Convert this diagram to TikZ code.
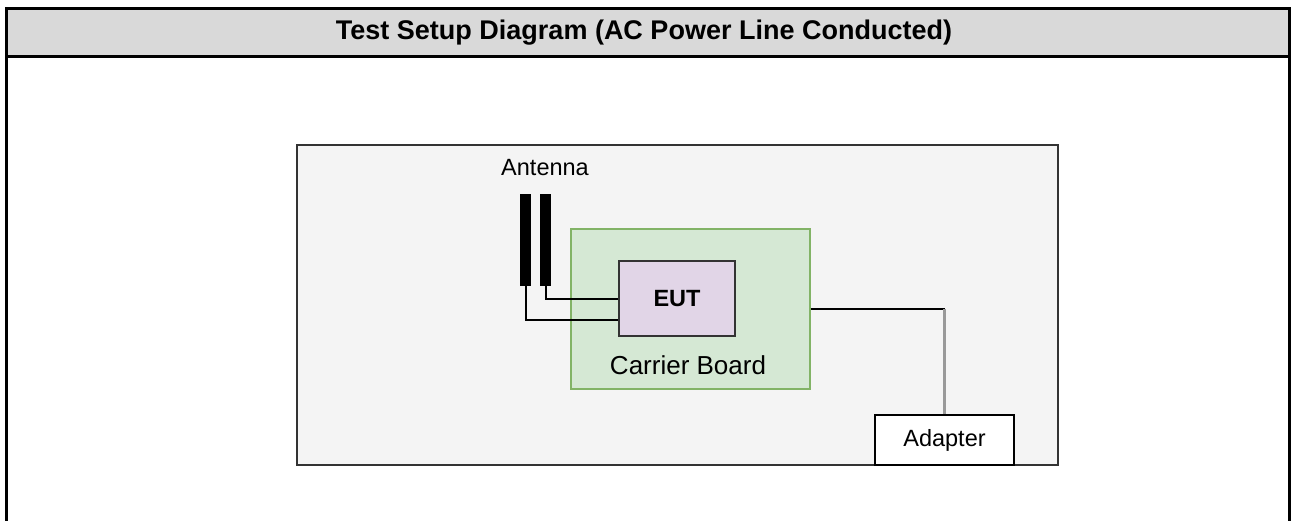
\documentclass[tikz,border=0pt]{standalone}
\usepackage{fontspec}
\setmainfont{Liberation Sans}
\usetikzlibrary{positioning}
\definecolor{headgrey}{HTML}{D9D9D9}
\definecolor{roomgrey}{HTML}{F4F4F4}
\definecolor{edgegrey}{HTML}{333333}
\definecolor{boardgreen}{HTML}{D5E8D4}
\definecolor{boardedge}{HTML}{82B366}
\definecolor{eutviolet}{HTML}{E1D5E7}
\definecolor{cablegrey}{HTML}{999999}

\begin{document}
\begin{tikzpicture}[
        x=1pt, y=-1pt,
        block/.style={rectangle, draw=edgegrey, line width=2pt, inner sep=0pt},
        bar/.style={rectangle, fill=black, minimum width=11pt, minimum height=92pt, inner sep=0pt},
        caption/.style={font=\fontsize{23.5}{28}\selectfont},
        wire/.style={line width=2pt}
    ]
        \clip (0,0) rectangle (1293,520);
        % header band
        \fill[headgrey] (6.5,8) rectangle (1289.5,56.5);
        \node[font=\bfseries\fontsize{27}{32}\selectfont, inner sep=0pt] (title) at (644,32.5)
            {Test Setup Diagram (AC Power Line Conducted)};
        \draw[line width=3pt] (6.5,540) |- (1289.5,8) -- (1289.5,540);
        \draw[line width=2.5pt] (6.5,56.5) -- (1289.5,56.5);

        % test room
        \node[block, fill=roomgrey, minimum width=761pt, minimum height=320pt] (room) at (677.5,305) {};
        \node[block, draw=boardedge, line width=1.5pt, fill=boardgreen,
              minimum width=239pt, minimum height=160pt] (board) at (690.5,309) {};
        \node[block, fill=eutviolet, minimum width=116pt, minimum height=75pt,
              font=\bfseries\fontsize{23.5}{28}\selectfont] (eut) at (677,298.5) {EUT};
        \node[caption, font=\fontsize{26}{30}\selectfont] (boardlabel) at (688,365) {Carrier Board};

        % antenna
        \node[bar] (ant1) at (525.5,240) {};
        \node[bar] (ant2) at (545.5,240) {};
        \node[caption] (antlabel) at (545,168) {Antenna};

        % adapter
        \node[block, draw=black, fill=white, minimum width=139pt, minimum height=50pt, caption] (adapter)
            at (944.5,440) {Adapter};

        % cables
        \draw[wire] (ant2.south) |- (eut.west);
        \draw[wire] (ant1.south) |- ([yshift=-21.5pt]eut.west);
        \coordinate (bend) at (adapter.north |- board.east);
        \draw[wire] (board.east) -- (bend);
        \draw[line width=3pt, cablegrey] (bend) -- (adapter.north);
    \end{tikzpicture}
\end{document}
